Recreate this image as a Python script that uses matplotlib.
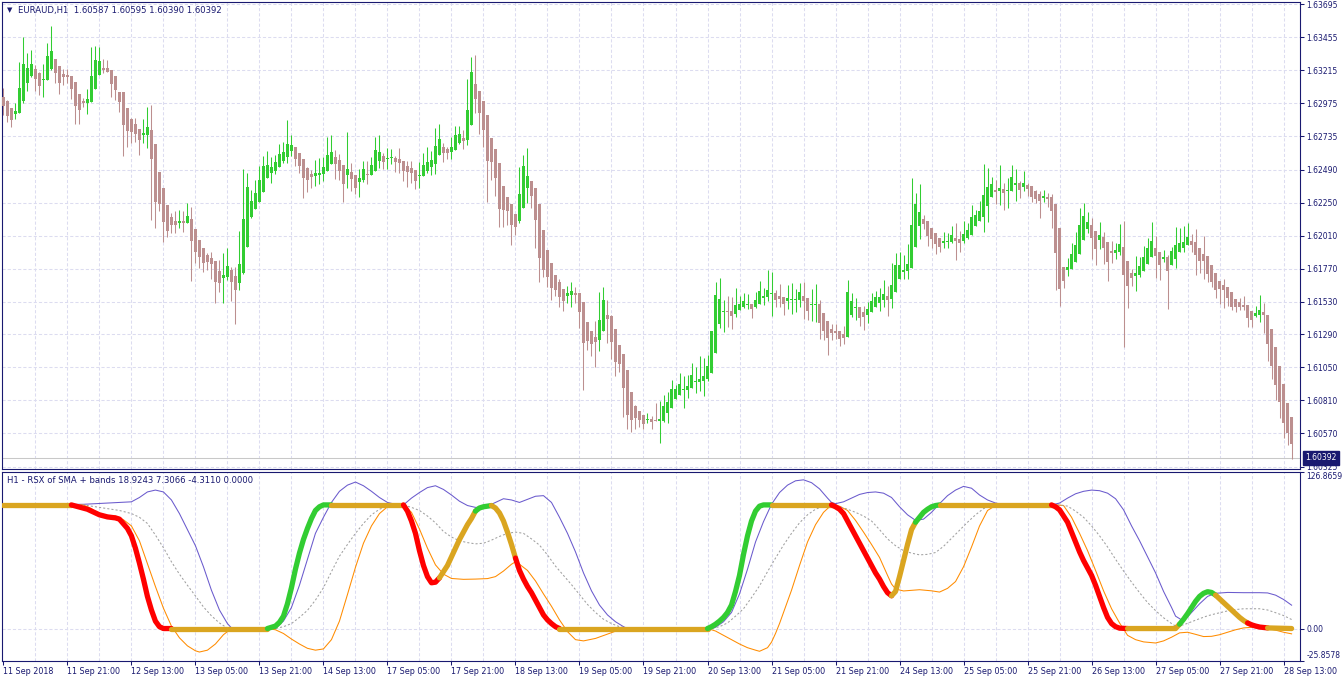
import numpy as np
import matplotlib
matplotlib.use("Agg")
from matplotlib import pyplot as plt

# EURAUD H1 candles, prices in points (0.00001) above 1.60000
open_pts = [3022, 2991, 2942, 2896, 2906, 2993, 3124, 3173, 3224, 3197, 3144, 3144, 3224, 3297, 3246, 3188,
            3180, 3173, 3132, 3042, 2991, 2979, 2984, 3078, 3180, 3231, 3231, 3217, 3173, 3059, 3057, 2942,
            2860, 2823, 2787, 2746, 2746, 2780, 2678, 2471, 2357, 2236, 2146, 2119, 2105, 2119, 2100, 2131,
            2058, 1978, 1920, 1869, 1845, 1825, 1752, 1704, 1711, 1759, 1716, 1667, 1735, 1930, 2148, 2206,
            2257, 2330, 2427, 2469, 2483, 2512, 2556, 2585, 2629, 2656, 2612, 2568, 2503, 2459, 2447, 2452,
            2461, 2483, 2534, 2583, 2561, 2525, 2454, 2474, 2452, 2403, 2415, 2461, 2454, 2483, 2556, 2590,
            2568, 2573, 2576, 2568, 2554, 2517, 2503, 2488, 2449, 2447, 2483, 2512, 2534, 2600, 2656, 2641,
            2622, 2634, 2687, 2721, 2709, 2819, 3115, 3064, 2991, 2889, 2721, 2641, 2539, 2372, 2291, 2240,
            2168, 2119, 2214, 2360, 2408, 2357, 2240, 2051, 1905, 1811, 1723, 1672, 1621, 1572, 1577, 1592,
            1592, 1526, 1381, 1315, 1271, 1252, 1317, 1432, 1424, 1330, 1213, 1147, 1031, 870, 768, 734,
            703, 669, 676, 669, 661, 661, 715, 756, 822, 849, 887, 885, 902, 946, 946, 953,
            968, 1011, 1157, 1368, 1453, 1461, 1461, 1441, 1468, 1492, 1504, 1512, 1492, 1514, 1558, 1565,
            1587, 1592, 1570, 1563, 1536, 1543, 1543, 1541, 1570, 1555, 1507, 1507, 1512, 1446, 1388, 1330,
            1315, 1315, 1295, 1274, 1434, 1485, 1490, 1456, 1434, 1456, 1492, 1522, 1541, 1570, 1551, 1599,
            1696, 1747, 1755, 1777, 1930, 2083, 2131, 2117, 2066, 2029, 1993, 1959, 1966, 1966, 1993, 1985,
            1973, 1993, 2017, 2083, 2119, 2148, 2228, 2294, 2343, 2338, 2350, 2338, 2338, 2379, 2396, 2364,
            2379, 2372, 2335, 2313, 2287, 2294, 2291, 2240, 2066, 1781, 1762, 1769, 1820, 1878, 1980, 2061,
            2088, 2044, 1980, 2000, 1964, 1898, 1886, 1893, 1927, 1825, 1735, 1718, 1725, 1755, 1806, 1857,
            1920, 1891, 1842, 1857, 1798, 1842, 1893, 1922, 1944, 1971, 1964, 1920, 1876, 1862, 1796, 1738,
            1682, 1650, 1638, 1599, 1548, 1526, 1507, 1504, 1461, 1427, 1432, 1453, 1434, 1330, 1198, 1062,
            929, 793, 691]
high_pts = [3083, 2998, 2942, 2974, 3277, 3460, 3338, 3363, 3253, 3205, 3261, 3416, 3538, 3297, 3246, 3224,
            3222, 3173, 3132, 3042, 3010, 3076, 3382, 3394, 3387, 3295, 3290, 3217, 3173, 3059, 3057, 2942,
            2865, 2865, 2787, 2860, 2945, 2962, 2678, 2471, 2357, 2236, 2172, 2189, 2197, 2189, 2250, 2216,
            2058, 1978, 1920, 1881, 1893, 1825, 1833, 1881, 1917, 1784, 1784, 2044, 2495, 2464, 2343, 2415,
            2517, 2590, 2627, 2585, 2598, 2678, 2692, 2852, 2743, 2656, 2612, 2568, 2508, 2488, 2561, 2573,
            2585, 2731, 2743, 2634, 2605, 2525, 2765, 2539, 2452, 2493, 2554, 2554, 2580, 2731, 2743, 2610,
            2649, 2641, 2590, 2651, 2554, 2554, 2551, 2488, 2546, 2610, 2658, 2627, 2792, 2823, 2683, 2658,
            2731, 2809, 2809, 2780, 3154, 3314, 3326, 3064, 2991, 2889, 2721, 2641, 2539, 2372, 2291, 2240,
            2168, 2512, 2598, 2649, 2408, 2357, 2240, 2051, 1905, 1811, 1723, 1696, 1621, 1643, 1672, 1638,
            1592, 1526, 1381, 1315, 1388, 1599, 1638, 1541, 1432, 1330, 1213, 1147, 1031, 870, 776, 734,
            703, 720, 698, 793, 807, 849, 873, 958, 922, 1011, 987, 994, 1082, 1053, 1133, 1118,
            1140, 1315, 1672, 1701, 1541, 1570, 1565, 1628, 1570, 1592, 1585, 1512, 1599, 1679, 1628, 1759,
            1745, 1614, 1657, 1563, 1650, 1665, 1621, 1665, 1672, 1555, 1623, 1660, 1541, 1446, 1388, 1368,
            1368, 1315, 1351, 1687, 1592, 1555, 1490, 1497, 1526, 1592, 1606, 1631, 1687, 1643, 1811, 1883,
            1891, 1869, 1949, 2430, 2321, 2386, 2160, 2117, 2066, 2029, 1993, 2036, 2029, 2083, 2102, 2044,
            2117, 2102, 2233, 2197, 2262, 2532, 2503, 2437, 2415, 2525, 2393, 2430, 2525, 2495, 2408, 2481,
            2396, 2372, 2343, 2338, 2343, 2323, 2316, 2240, 2066, 1781, 1847, 1956, 2036, 2211, 2248, 2182,
            2141, 2044, 2109, 2036, 1964, 1971, 1956, 2095, 2117, 1825, 1769, 1862, 1857, 1934, 1993, 2112,
            2007, 1891, 1905, 1869, 1927, 2073, 2066, 2080, 2102, 2022, 2058, 1920, 2007, 1862, 1796, 1738,
            1682, 1696, 1638, 1599, 1548, 1558, 1572, 1504, 1461, 1497, 1580, 1519, 1434, 1330, 1198, 1062,
            929, 793, 691]
low_pts = [2889, 2840, 2804, 2857, 2906, 2974, 3066, 3168, 3066, 3035, 3023, 3144, 3217, 3120, 3042, 3108,
           3120, 3006, 2823, 2823, 2945, 2896, 2984, 3078, 3180, 3193, 3202, 3023, 2998, 2913, 2593, 2658,
           2683, 2695, 2600, 2687, 2651, 2124, 2068, 2189, 1964, 1998, 2027, 2027, 2063, 2039, 2100, 1679,
           1813, 1777, 1747, 1759, 1694, 1522, 1602, 1517, 1687, 1536, 1364, 1614, 1730, 1930, 2136, 2206,
           2257, 2330, 2427, 2396, 2459, 2512, 2537, 2542, 2590, 2520, 2469, 2287, 2330, 2355, 2374, 2384,
           2410, 2483, 2534, 2423, 2415, 2257, 2360, 2338, 2311, 2294, 2403, 2384, 2454, 2483, 2500, 2493,
           2493, 2530, 2476, 2464, 2408, 2367, 2396, 2350, 2360, 2447, 2469, 2454, 2461, 2600, 2549, 2568,
           2568, 2634, 2678, 2644, 2670, 2819, 2906, 2750, 2658, 2257, 2415, 2299, 2075, 2075, 2088, 1942,
           2015, 2105, 2214, 2250, 2214, 1922, 1674, 1706, 1638, 1541, 1570, 1492, 1463, 1522, 1492, 1522,
           1339, 885, 1177, 1135, 1055, 1172, 1317, 1230, 1111, 989, 1019, 691, 603, 581, 603, 618,
           598, 642, 598, 661, 501, 654, 647, 756, 822, 849, 756, 829, 902, 866, 880, 844,
           953, 1011, 1157, 1339, 1310, 1347, 1330, 1419, 1468, 1480, 1475, 1412, 1485, 1514, 1504, 1531,
           1427, 1492, 1492, 1434, 1478, 1441, 1456, 1492, 1402, 1398, 1390, 1383, 1259, 1250, 1140, 1250,
           1257, 1208, 1223, 1274, 1419, 1398, 1354, 1325, 1376, 1456, 1492, 1463, 1492, 1427, 1485, 1599,
           1696, 1696, 1696, 1777, 1930, 1988, 2061, 1937, 1922, 1878, 1893, 1922, 1922, 1959, 1835, 1893,
           1959, 1983, 2017, 2083, 2119, 2039, 2112, 2294, 2243, 2236, 2199, 2214, 2338, 2265, 2287, 2338,
           2301, 2257, 2250, 2141, 2257, 2221, 2068, 1616, 1500, 1631, 1718, 1769, 1820, 1878, 1980, 2032,
           1842, 1798, 1915, 1806, 1682, 1813, 1837, 1869, 1201, 1485, 1645, 1609, 1711, 1755, 1806, 1857,
           1699, 1689, 1820, 1478, 1798, 1772, 1893, 1893, 1944, 1891, 1725, 1735, 1696, 1674, 1638, 1558,
           1514, 1485, 1500, 1468, 1456, 1470, 1470, 1344, 1347, 1419, 1383, 1303, 1099, 965, 815, 683,
           537, 484, 385]
close_pts = [2954, 2884, 2852, 2918, 3085, 3261, 3229, 3261, 3154, 3100, 3154, 3319, 3355, 3193, 3124, 3168,
             3168, 3078, 2954, 2925, 2974, 3006, 3173, 3290, 3285, 3217, 3202, 3115, 3071, 2986, 2816, 2775,
             2767, 2750, 2707, 2760, 2804, 2571, 2255, 2240, 2107, 2046, 2088, 2088, 2117, 2105, 2153, 1973,
             1893, 1857, 1813, 1820, 1803, 1670, 1667, 1723, 1791, 1674, 1614, 1801, 2131, 2362, 2262, 2318,
             2415, 2517, 2525, 2512, 2546, 2605, 2619, 2678, 2670, 2571, 2520, 2432, 2415, 2440, 2466, 2466,
             2512, 2598, 2619, 2534, 2483, 2384, 2495, 2425, 2360, 2430, 2495, 2454, 2525, 2634, 2619, 2546,
             2578, 2583, 2546, 2539, 2483, 2476, 2469, 2410, 2454, 2525, 2546, 2561, 2663, 2714, 2614, 2614,
             2656, 2743, 2750, 2702, 2925, 3202, 3008, 2906, 2780, 2556, 2549, 2432, 2206, 2199, 2192, 2088,
             2075, 2313, 2517, 2444, 2301, 2126, 1849, 1762, 1711, 1631, 1616, 1565, 1536, 1592, 1606, 1580,
             1456, 1230, 1245, 1223, 1237, 1395, 1541, 1405, 1237, 1091, 1077, 902, 705, 669, 683, 669,
             640, 676, 654, 661, 676, 771, 800, 892, 892, 929, 895, 914, 994, 953, 965, 987,
             1060, 1315, 1577, 1548, 1461, 1456, 1427, 1504, 1512, 1534, 1512, 1478, 1541, 1606, 1570, 1614,
             1592, 1543, 1548, 1514, 1555, 1548, 1548, 1599, 1534, 1461, 1512, 1512, 1376, 1317, 1266, 1303,
             1303, 1259, 1266, 1599, 1534, 1492, 1412, 1419, 1475, 1534, 1563, 1563, 1585, 1541, 1650, 1796,
             1796, 1759, 1803, 2088, 2240, 2182, 2097, 2010, 1988, 1951, 1930, 1971, 1973, 2015, 1973, 1959,
             2022, 2051, 2146, 2160, 2189, 2306, 2364, 2386, 2330, 2357, 2323, 2345, 2437, 2393, 2345, 2393,
             2352, 2294, 2279, 2265, 2299, 2279, 2192, 1886, 1623, 1682, 1781, 1876, 1942, 2088, 2153, 2109,
             1995, 1915, 2017, 1922, 1820, 1886, 1908, 1949, 1725, 1645, 1704, 1740, 1791, 1854, 1920, 1971,
             1864, 1798, 1854, 1755, 1898, 1942, 1956, 1964, 2000, 1944, 1871, 1827, 1827, 1733, 1674, 1616,
             1621, 1616, 1558, 1492, 1492, 1492, 1492, 1412, 1398, 1444, 1468, 1434, 1223, 1062, 924, 800,
             647, 574, 489]

price_ticks = [1.63695, 1.63455, 1.63215, 1.62975, 1.62735, 1.62490, 1.62250, 1.62010,
               1.61770, 1.61530, 1.61290, 1.61050, 1.60810, 1.60570, 1.60325]
bid = 1.60392

time_labels = ["11 Sep 2018", "11 Sep 21:00", "12 Sep 13:00", "13 Sep 05:00", "13 Sep 21:00",
               "14 Sep 13:00", "17 Sep 05:00", "17 Sep 21:00", "18 Sep 13:00", "19 Sep 05:00",
               "19 Sep 21:00", "20 Sep 13:00", "21 Sep 05:00", "21 Sep 21:00", "24 Sep 13:00",
               "25 Sep 05:00", "25 Sep 21:00", "26 Sep 13:00", "27 Sep 05:00", "27 Sep 21:00",
               "28 Sep 13:00"]

# RSX of SMA + bands (bar index, value)
rsx_bar = [0, 17, 21, 24, 26, 28, 29, 31, 32, 33, 34, 35, 36, 37, 38, 39, 40, 42,
           66, 68, 69, 70, 71, 72, 73, 74, 75, 76, 77, 78, 79, 80, 82,
           100, 101, 102, 103, 104, 105, 106, 107, 108, 109,
           110, 111, 112, 113, 114, 115, 116, 117, 118, 119, 120, 121, 122,
           123, 124, 125, 126, 127, 128, 129, 130, 131, 132, 133, 134, 135, 136, 137, 138, 139,
           176, 177, 178, 179, 180, 181, 182, 183, 184, 185, 186, 187, 188, 189, 190, 192,
           207, 208, 209, 210, 211, 212, 213, 214, 215, 216, 217, 218, 219, 220, 221, 222,
           223, 224, 225, 226, 227, 228, 229, 230, 231, 232, 233, 234,
           262, 263, 264, 265, 266, 267, 268, 269, 270, 271, 272, 273, 274, 275, 276, 277, 278, 279, 281,
           293, 294, 295, 296, 297, 298, 299, 300, 301, 302, 303,
           304, 305, 306, 307, 308, 309, 310, 311, 312, 313, 314, 316, 322]
rsx_val = [100, 100, 96.5, 92, 90.3, 89.5, 88.5, 81, 75, 65, 53, 40, 26, 15, 6, 1.5, 0, 0,
           0, 2, 5, 10, 20, 33, 48, 61, 72, 81, 89, 95.5, 98.5, 100, 100,
           100, 95, 87, 77, 63, 51, 42, 37, 37.5, 41,
           46, 51, 58, 65, 72, 78, 84, 89, 95, 97.5, 98.5, 99, 99.5,
           97.5, 93.5, 87, 78, 68, 57, 47, 40, 34, 29, 23, 17, 11, 7, 4, 1.5, 0,
           0, 1.5, 3.5, 6, 9, 13, 19, 30, 43, 60, 75, 87, 95, 99, 100, 100,
           100, 98.5, 96.5, 93, 87, 81, 75, 69, 63, 57, 51, 45, 40, 34, 29, 26.5,
           30, 42, 55, 68, 80, 86, 90, 94, 96.5, 98.5, 99.5, 100,
           100, 98.5, 96, 91, 86, 78, 70, 62, 55, 49, 43, 35, 26, 17, 9, 4, 1.5, 0.3, 0,
           0, 3.5, 7.5, 12, 17, 22, 26, 28.5, 29.8, 29.2, 27,
           24, 21, 18, 15, 12, 9, 6.5, 4.5, 3, 2, 1.2, 0.5, 0]
rsx_states = [(0, 17, "flat"), (17, 42, "down"), (42, 66, "flat"), (66, 82, "up"), (82, 100, "flat"),
              (100, 109, "down"), (109, 118, "flat"), (118, 122, "up"), (122, 128, "flat"),
              (128, 139, "down"), (139, 176, "flat"), (176, 192, "up"), (192, 207, "flat"),
              (207, 222, "down"), (222, 228, "flat"), (228, 234, "up"), (234, 262, "flat"),
              (262, 281, "down"), (281, 294, "flat"), (294, 303, "up"), (303, 311, "flat"),
              (311, 316, "down"), (316, 322, "flat")]

upper_bar = [0, 20, 26, 32, 34, 36, 38, 40, 42, 44, 46, 48, 50, 52, 54, 56, 57, 58,
             68, 70, 72, 74, 76, 78, 80, 82, 84, 86, 88, 90, 92, 94, 96, 98, 100,
             102, 104, 106, 108, 110, 112, 114, 116, 118, 120, 122, 124, 125, 127, 129, 131, 133, 135,
             137, 139, 141, 143, 145, 147, 149, 151, 153, 155, 156,
             177, 178, 180, 182, 184, 186, 188, 190, 192, 194, 196, 198, 200, 202, 204, 206, 207, 208,
             210, 212, 214, 216, 218, 220, 222, 224, 226, 228, 230, 232, 234, 236, 238, 240, 242, 244,
             246, 248, 250, 262, 264, 266, 268, 270, 272, 274, 276, 278, 280, 282, 284, 286, 288, 290,
             292, 293, 295, 297, 299, 301, 303, 306, 310, 314, 316, 318, 320, 322]
upper_val = [100, 100.5, 101.5, 102.5, 106, 110.5, 112, 110.5, 104, 93, 80, 67, 50, 31, 15, 4, 0.5, 0,
             0, 6, 17, 35, 56, 77, 90, 102, 111, 116, 118.5, 115.5, 111, 106, 102, 100.5, 100,
             105.5, 110, 114, 115.5, 112.5, 108, 103, 99.5, 98, 98, 100.5, 103.5, 105, 104, 102, 104.5, 107, 107.5,
             102, 90, 77, 62, 45, 30.5, 19, 11, 5.5, 1.5, 0,
             0, 1, 5.5, 13, 28, 48, 70, 86.5, 100.5, 110, 116, 119.5, 120.3, 118, 113, 105.5, 102, 101,
             102.5, 105.5, 108.5, 110, 110.5, 109.5, 106, 98.5, 92, 87.5, 88.5, 94, 101, 107.5, 112, 115, 113.5, 108,
             104, 101.5, 100.3, 100, 101.5, 105.5, 109, 111, 112, 111.5, 109.5, 105, 96, 83, 71, 58, 45, 30,
             17, 10, 6, 13, 20, 26, 28.5, 29.2, 29, 29, 28.8, 27, 23.5, 18.9]

lower_bar = [0, 20, 22, 24, 26, 28, 30, 32, 34, 36, 38, 40, 42, 44, 46, 48, 49, 51, 53, 55, 57,
             66, 68, 70, 72, 74, 76, 78, 80, 82, 84, 86, 88, 90, 92, 94, 96, 98, 100,
             102, 104, 106, 108, 110, 112, 115, 118, 121, 123, 125, 127, 128, 129, 131, 133, 135, 137,
             139, 141, 143, 145, 148, 151, 154, 156,
             176, 178, 180, 182, 184, 186, 188, 189, 191, 192, 193, 194, 195, 197, 199, 201, 203, 205,
             207, 209, 211, 213, 215, 217, 219, 221, 222, 223, 225, 229, 232, 234, 236, 238, 240, 242,
             244, 246, 248, 250, 263, 265, 267, 269, 271, 273, 275, 277, 279, 281, 283, 285, 288, 290,
             292, 294, 296, 298, 300, 302, 304, 306, 308, 310, 312, 314, 316, 318, 320, 322]
lower_val = [100, 100, 97, 92.5, 91.5, 91, 88, 83, 71, 52.5, 34, 16.5, 2, -7.5, -14, -18, -19, -17.5, -12.5, -5, 0,
             0, -1, -4, -8.5, -12.5, -16, -17.5, -16.5, -9, 6, 27.5, 49.5, 69, 83, 93, 98.5, 100, 100,
             94, 80.5, 65, 51.5, 44, 40.5, 39.8, 40, 40.4, 42, 46.5, 52, 54, 52, 47, 38.5, 28, 18,
             7, -2.5, -9, -10, -8, -4.5, -1, 0,
             0, -2, -5.5, -9, -12.5, -15.5, -17.5, -18.4, -15.5, -11, -4, 4, 13, 31, 51, 70, 84, 94,
             100, 99, 95.5, 87.5, 78, 68, 57.5, 43, 36, 32, 30.4, 31.4, 30.5, 29.5, 32.5, 38, 50, 66,
             83, 95.5, 99.5, 100, 100, 99.5, 90, 77, 63, 47, 30.5, 16, 4.5, -5.5, -9, -10.8, -11.7, -10,
             -7, -3.5, -3, -4.7, -6.5, -6.3, -5, -3, -1, 0.5, 1, 0.5, 0, -1.3, -3, -4.3]

mid_bar = [0, 20, 24, 29, 32, 34, 36, 38, 40, 42, 44, 46, 48, 50, 52, 54, 56, 57,
           68, 70, 72, 74, 76, 78, 80, 82, 84, 86, 88, 90, 92, 94, 96, 98, 100,
           102, 104, 106, 108, 110, 112, 114, 116, 118, 120, 122, 124, 126, 128, 130, 132, 134, 136,
           138, 140, 142, 144, 146, 148, 150, 152, 154, 156,
           177, 179, 181, 183, 185, 187, 189, 191, 193, 195, 197, 199, 201, 203, 205, 207,
           209, 211, 213, 215, 217, 219, 221, 223, 225, 227, 229, 231, 233, 235, 237, 239, 241, 243,
           245, 247, 249, 264, 266, 268, 270, 272, 274, 276, 278, 280, 282, 284, 286, 288, 290,
           292, 293, 295, 297, 299, 301, 303, 305, 307, 310, 314, 316, 318, 320, 322]
mid_val = [100, 100, 98, 95.5, 93, 90, 85, 75.6, 65.4, 54, 44, 35, 26.4, 17.5, 10.3, 4.5, 0.3, 0,
           0, 1.5, 4, 9, 14.7, 23, 33, 46, 58.5, 68, 77, 85, 92, 96.5, 99, 99.8, 100,
           98, 95.5, 91, 85.5, 78.5, 74, 71, 69.5, 68.5, 69, 71.5, 74.5, 77, 78, 77, 72.5, 67.5, 59.5,
           50.5, 43, 35.5, 27.5, 19.5, 13, 7.5, 4, 1.5, 0,
           0, 1.5, 4.5, 10, 16, 25, 34.5, 46, 57, 67.5, 77, 85.5, 92, 96.5, 99, 100,
           98.5, 96.5, 94, 91, 87, 80, 72.5, 67, 63, 61, 59.6, 60, 61.5, 66.5, 73, 79.5, 86, 92,
           97, 99.5, 100, 100, 99, 95, 90, 83, 75, 66, 56, 46.5, 37.5, 29, 21, 14.5, 8.7,
           4, 2, 3, 5.5, 8, 10.3, 12, 13.5, 15, 16, 16, 15, 12.8, 10.5, 7.3]

NAVY = '#191970'
BULL = '#32CD32'
BEAR = '#BC8F8F'
GRID = '#dcdcf0'
STATE_COLORS = {"flat": '#DAA520', "up": '#32CD32', "down": '#FF0000'}

plt.rcParams['font.family'] = ['DejaVu Sans', 'Noto Sans CJK SC']
FS = 5.8      # time labels
FS_AX = 5.5   # price scale labels
FS_T = 6.1    # window titles

W, H = 1344, 682
fig = plt.figure(figsize=(W / 100, H / 100), dpi=100)
fig.patch.set_facecolor('white')


def box(l, t, r, b):
    return [l / W, 1 - b / H, (r - l) / W, (b - t) / H]


ax = fig.add_axes(box(2, 2.3, 1300, 469.3))
ax2 = fig.add_axes(box(2, 471.7, 1300, 660.5))

o = 1.6 + np.array(open_pts) / 1e5
h = 1.6 + np.array(high_pts) / 1e5
l = 1.6 + np.array(low_pts) / 1e5
c = 1.6 + np.array(close_pts) / 1e5
x = np.arange(len(c))

for a in (ax, ax2):
    a.set_xlim(-0.35, 324.1)
    for b in range(8, 324, 8):
        a.axvline(b, color=GRID, lw=0.75, ls=(0, (3, 2)), zorder=0)
    for s in a.spines.values():
        s.set_color(NAVY)
        s.set_linewidth(0.8)
    a.yaxis.tick_right()
    a.tick_params(axis='y', length=3, width=0.75, color=NAVY, labelcolor=NAVY, labelsize=FS_AX, pad=1.5)

# ---- price panel
for p in price_ticks:
    ax.axhline(p, color=GRID, lw=0.75, ls=(0, (3, 2)), zorder=0)
ax.axhline(bid, color='#c8c8c8', lw=0.75, zorder=1)

up = c >= o
col = np.where(up, BULL, BEAR)
ax.vlines(x, l, h, colors=col, linewidth=0.75, zorder=2)
body = np.abs(c - o)
min_body = 0.00007
bottom = np.where(body < min_body, (o + c) / 2 - min_body / 2, np.minimum(o, c))
ax.bar(x, np.maximum(body, min_body), bottom=bottom, width=0.74, color=col, linewidth=0, zorder=3)

ax.set_ylim(1.60308, 1.63710)
ax.set_yticks(price_ticks)
ax.set_yticklabels([f"{p:.5f}" for p in price_ticks])
ax.tick_params(axis='x', bottom=False, labelbottom=False)

ax.annotate(f"{bid:.5f}", xy=(1, bid), xycoords=('axes fraction', 'data'),
            xytext=(5, 0), textcoords='offset pixels', va='center', ha='left',
            fontsize=FS_AX, color='white',
            bbox=dict(boxstyle='square,pad=0.3', fc=NAVY, ec=NAVY))

fig.text(7 / W, 1 - 10 / H, "\u25bc", fontsize=5, color=NAVY, va='center', ha='left')
fig.text(18 / W, 1 - 10 / H, "EURAUD,H1  1.60587 1.60595 1.60390 1.60392",
         fontsize=FS_T, color=NAVY, va='center', ha='left')

# ---- indicator panel
ax2.axhline(0, color=GRID, lw=0.75, ls=(0, (3, 2)), zorder=0)
ax2.plot(upper_bar, upper_val, color='#6A5ACD', lw=0.75, zorder=2)
ax2.plot(lower_bar, lower_val, color='#FF8C00', lw=0.75, zorder=2)
ax2.plot(mid_bar, mid_val, color='#a0a0a0', lw=0.75, ls=(0, (2, 2)), zorder=2)

rb = np.array(rsx_bar)
rv = np.array(rsx_val)
for s, e, state in rsx_states:
    m = (rb >= s) & (rb <= e)
    ax2.plot(rb[m], rv[m], color=STATE_COLORS[state], lw=3.8,
             solid_capstyle='round', solid_joinstyle='round', zorder=3)

ax2.set_ylim(-25.8578, 126.8659)
ind_ticks = [126.8659, 0.0, -25.8578]
ax2.set_yticks(ind_ticks)
ax2.set_yticklabels(["126.8659", "0.00", "-25.8578"])
for t in ax2.get_yticklabels():
    if t.get_text() == "126.8659":
        t.set_va('top')
    elif t.get_text() == "-25.8578":
        t.set_va('bottom')

ax2.set_xticks(range(0, 16 * len(time_labels), 16))
ax2.set_xticklabels(time_labels)
ax2.tick_params(axis='x', length=3, width=0.75, color=NAVY, labelcolor=NAVY, labelsize=FS, pad=1.5)
for t in ax2.get_xticklabels():
    t.set_ha('left')

fig.text(7 / W, 1 - 480.5 / H, "H1 - RSX of SMA + bands 18.9243 7.3066 -4.3110 0.0000",
         fontsize=FS_T, color=NAVY, va='center', ha='left')

fig.savefig("out.png", dpi=100, facecolor='white')
